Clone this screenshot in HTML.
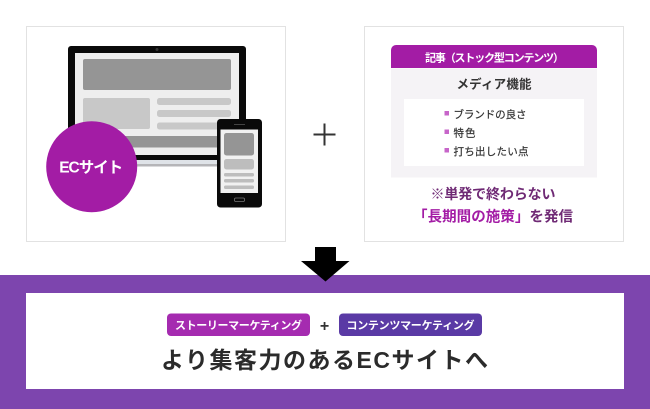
<!DOCTYPE html>
<html lang="ja">
<head>
<meta charset="utf-8">
<style>
html,body{margin:0;padding:0;background:#fff}
svg{display:block;filter:blur(.3px)}
text{font-family:"Liberation Sans","Noto Sans CJK JP",sans-serif}
</style>
</head>
<body>
<svg width="650" height="409" viewBox="0 0 650 409" xmlns="http://www.w3.org/2000/svg">
<rect width="650" height="409" fill="#fff"/>
<rect x="26.500" y="26.500" width="259" height="215" fill="#fff" stroke="#e2e2e2"/>
<rect x="364.500" y="26.500" width="259" height="215" fill="#fff" stroke="#e2e2e2"/>

<!-- laptop -->
<rect x="68" y="46" width="178" height="114" rx="3" fill="#0a0a0a"/>
<rect x="75" y="53" width="164" height="102" fill="#eeeeee"/>
<rect x="75" y="160" width="165" height="4" fill="#dfe3e8"/>
<rect x="75" y="164" width="165" height="2.500" fill="#b5b5b8"/>
<rect x="83" y="59" width="148" height="31" rx="2" fill="#959595"/>
<rect x="83" y="98" width="67" height="31" rx="2" fill="#c8c8c8"/>
<rect x="157" y="98" width="74" height="7" rx="2.500" fill="#c8c8c8"/>
<rect x="157" y="110" width="74" height="7" rx="2.500" fill="#c8c8c8"/>
<rect x="157" y="122.500" width="74" height="7" rx="2.500" fill="#c8c8c8"/>
<rect x="83" y="136" width="148" height="11.500" fill="#959595"/>
<circle cx="157" cy="49.500" r="1.500" fill="#333"/>

<!-- phone -->
<rect x="217" y="119" width="45" height="88.500" rx="3.500" fill="#0a0a0a"/>
<rect x="220.500" y="129.500" width="37.500" height="63.500" fill="#f1f1f1"/>
<rect x="224" y="133" width="30" height="22.500" rx="2.500" fill="#959595"/>
<rect x="224" y="159" width="30" height="10.500" rx="2.500" fill="#bdbdbd"/>
<rect x="224" y="173" width="30" height="3.500" rx="1.500" fill="#bdbdbd"/>
<rect x="224" y="179" width="30" height="3.500" rx="1.500" fill="#bdbdbd"/>
<rect x="224" y="185.500" width="30" height="3.500" rx="1.500" fill="#bdbdbd"/>
<rect x="234.500" y="198" width="10" height="3.500" rx="1.200" fill="none" stroke="#777" stroke-width=".8"/>
<rect x="234" y="124" width="11" height="1" fill="#444"/>

<!-- EC circle -->
<circle cx="91.700" cy="166.700" r="45.500" fill="#a31ca5"/>
<text x="91.200" y="172.500" text-anchor="middle" font-size="15.500" font-weight="700" fill="#fff" textLength="64" lengthAdjust="spacing">ECサイト</text>

<!-- plus -->
<rect x="313.500" y="133.500" width="22" height="2" fill="#333"/>
<rect x="323.500" y="123.500" width="2" height="22" fill="#333"/>

<!-- media card -->
<path d="M391 68V50a5 5 0 0 1 5-5H592a5 5 0 0 1 5 5V68Z" fill="#a31ca5"/>
<rect x="391" y="68.500" width="206" height="109" fill="#f5f3f6"/>
<rect x="404" y="99" width="180" height="67" fill="#fff"/>
<text x="494.500" y="61.500" text-anchor="middle" font-size="11" font-weight="700" fill="#fff" textLength="139" lengthAdjust="spacing">記事（ストック型コンテンツ）</text>
<text x="494" y="88.500" text-anchor="middle" font-size="12.500" font-weight="700" fill="#333" textLength="75" lengthAdjust="spacing">メディア機能</text>
<rect x="444.500" y="111" width="4.500" height="4.500" fill="#c765c9"/>
<rect x="444.500" y="129.500" width="4.500" height="4.500" fill="#c765c9"/>
<rect x="444.500" y="148" width="4.500" height="4.500" fill="#c765c9"/>
<g font-size="10.500" fill="#333" stroke="#333" stroke-width=".2">
<text x="453.500" y="118" textLength="73" lengthAdjust="spacing">ブランドの良さ</text>
<text x="453.500" y="136.700" textLength="22" lengthAdjust="spacing">特色</text>
<text x="453.500" y="155" textLength="75" lengthAdjust="spacing">打ち出したい点</text>
</g>
<text x="493" y="199" text-anchor="middle" font-size="14" font-weight="700" fill="#6f2a75" textLength="125" lengthAdjust="spacing">※単発で終わらない</text>
<text x="413" y="221.500" font-size="14.500" font-weight="700" textLength="160" lengthAdjust="spacing" fill="#6f2a75"><tspan fill="#a31ca5">「長期間の施策」</tspan>を発信</text>

<!-- bottom band -->
<rect x="0" y="275" width="650" height="134" fill="#7d45ae"/>
<rect x="26" y="293" width="598" height="96" fill="#fff"/>
<path d="M315 247H336V261H349.500L325.500 281.500L301 261H315Z" fill="#000"/>

<rect x="167" y="313.500" width="143" height="22.500" rx="4" fill="#a52bb0"/>
<rect x="339" y="313.500" width="143" height="22.500" rx="4" fill="#5a3aa5"/>
<text x="238.500" y="329" text-anchor="middle" font-size="11" font-weight="700" fill="#fff" textLength="127" lengthAdjust="spacing">ストーリーマーケティング</text>
<text x="410.500" y="329" text-anchor="middle" font-size="11" font-weight="700" fill="#fff" textLength="128" lengthAdjust="spacing">コンテンツマーケティング</text>
<text x="324.500" y="331" text-anchor="middle" font-size="16" font-weight="700" fill="#333">+</text>
<text x="324.500" y="368" text-anchor="middle" font-size="23" font-weight="700" fill="#2b2b2b" textLength="327" lengthAdjust="spacing">より集客力のあるECサイトへ</text>
</svg>
</body>
</html>
